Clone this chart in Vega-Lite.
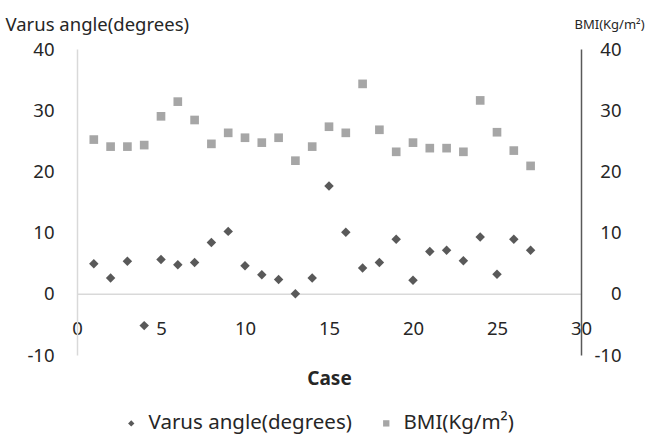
{
  "$schema": "https://vega.github.io/schema/vega-lite/v6.json",
  "width": 504,
  "height": 306,
  "autosize": {"type": "none"},
  "padding": {"left": 77, "top": 49, "right": 66, "bottom": 82},
  "background": "white",
  "config": {
    "view": {"stroke": null},
    "font": "Noto Sans",
    "axis": {"labelFont": "Noto Sans", "titleFont": "Noto Sans", "labelColor": "#262626", "titleColor": "#262626", "grid": false, "ticks": false}
  },
  "data": {
    "values": [
      {"case": 1, "series": "Varus angle(degrees)", "value": 4.9},
      {"case": 2, "series": "Varus angle(degrees)", "value": 2.6},
      {"case": 3, "series": "Varus angle(degrees)", "value": 5.3},
      {"case": 4, "series": "Varus angle(degrees)", "value": -5.2},
      {"case": 5, "series": "Varus angle(degrees)", "value": 5.6},
      {"case": 6, "series": "Varus angle(degrees)", "value": 4.75},
      {"case": 7, "series": "Varus angle(degrees)", "value": 5.1},
      {"case": 8, "series": "Varus angle(degrees)", "value": 8.4},
      {"case": 9, "series": "Varus angle(degrees)", "value": 10.2},
      {"case": 10, "series": "Varus angle(degrees)", "value": 4.6},
      {"case": 11, "series": "Varus angle(degrees)", "value": 3.1},
      {"case": 12, "series": "Varus angle(degrees)", "value": 2.35},
      {"case": 13, "series": "Varus angle(degrees)", "value": 0},
      {"case": 14, "series": "Varus angle(degrees)", "value": 2.6},
      {"case": 15, "series": "Varus angle(degrees)", "value": 17.6},
      {"case": 16, "series": "Varus angle(degrees)", "value": 10.05},
      {"case": 17, "series": "Varus angle(degrees)", "value": 4.2},
      {"case": 18, "series": "Varus angle(degrees)", "value": 5.1},
      {"case": 19, "series": "Varus angle(degrees)", "value": 8.9},
      {"case": 20, "series": "Varus angle(degrees)", "value": 2.2},
      {"case": 21, "series": "Varus angle(degrees)", "value": 6.9},
      {"case": 22, "series": "Varus angle(degrees)", "value": 7.1},
      {"case": 23, "series": "Varus angle(degrees)", "value": 5.4},
      {"case": 24, "series": "Varus angle(degrees)", "value": 9.3},
      {"case": 25, "series": "Varus angle(degrees)", "value": 3.2},
      {"case": 26, "series": "Varus angle(degrees)", "value": 8.9},
      {"case": 27, "series": "Varus angle(degrees)", "value": 7.1},
      {"case": 1, "series": "BMI(Kg/m²)", "value": 25.2},
      {"case": 2, "series": "BMI(Kg/m²)", "value": 24.05},
      {"case": 3, "series": "BMI(Kg/m²)", "value": 24.05},
      {"case": 4, "series": "BMI(Kg/m²)", "value": 24.3},
      {"case": 5, "series": "BMI(Kg/m²)", "value": 29.0},
      {"case": 6, "series": "BMI(Kg/m²)", "value": 31.4},
      {"case": 7, "series": "BMI(Kg/m²)", "value": 28.4},
      {"case": 8, "series": "BMI(Kg/m²)", "value": 24.5},
      {"case": 9, "series": "BMI(Kg/m²)", "value": 26.3},
      {"case": 10, "series": "BMI(Kg/m²)", "value": 25.5},
      {"case": 11, "series": "BMI(Kg/m²)", "value": 24.7},
      {"case": 12, "series": "BMI(Kg/m²)", "value": 25.5},
      {"case": 13, "series": "BMI(Kg/m²)", "value": 21.75},
      {"case": 14, "series": "BMI(Kg/m²)", "value": 24.05},
      {"case": 15, "series": "BMI(Kg/m²)", "value": 27.3},
      {"case": 16, "series": "BMI(Kg/m²)", "value": 26.3},
      {"case": 17, "series": "BMI(Kg/m²)", "value": 34.3},
      {"case": 18, "series": "BMI(Kg/m²)", "value": 26.8},
      {"case": 19, "series": "BMI(Kg/m²)", "value": 23.2},
      {"case": 20, "series": "BMI(Kg/m²)", "value": 24.7},
      {"case": 21, "series": "BMI(Kg/m²)", "value": 23.8},
      {"case": 22, "series": "BMI(Kg/m²)", "value": 23.8},
      {"case": 23, "series": "BMI(Kg/m²)", "value": 23.2},
      {"case": 24, "series": "BMI(Kg/m²)", "value": 31.6},
      {"case": 25, "series": "BMI(Kg/m²)", "value": 26.4},
      {"case": 26, "series": "BMI(Kg/m²)", "value": 23.4},
      {"case": 27, "series": "BMI(Kg/m²)", "value": 20.9}
    ]
  },
  "encoding": {
    "x": {
      "field": "case", "type": "quantitative",
      "scale": {"domain": [0, 30], "nice": false, "zero": false},
      "axis": {
        "title": "Case", "values": [0, 5, 10, 15, 20, 25, 30], "format": "d",
        "offset": -61.2, "domainColor": "#d9d9d9", "domainWidth": 1.5,
        "labelFontSize": 18.5, "labelPadding": 26, "labelFlush": false,
        "titleFontSize": 19, "titleFontWeight": "bold", "titleY": 85, "titleBaseline": "middle"
      }
    },
    "color": {
      "field": "series", "type": "nominal",
      "scale": {"domain": ["Varus angle(degrees)", "BMI(Kg/m²)"], "range": ["#595959", "#a6a6a6"]},
      "legend": {
        "title": null, "orient": "none", "direction": "horizontal",
        "legendX": 44, "legendY": 364, "labelFontSize": 20.5, "labelColor": "#262626",
        "labelFont": "Noto Sans", "labelLimit": 400, "symbolSize": 40, "columnPadding": 24, "labelOffset": 7
      }
    },
    "shape": {
      "field": "series", "type": "nominal",
      "scale": {"domain": ["Varus angle(degrees)", "BMI(Kg/m²)"], "range": ["diamond", "square"]},
      "legend": null
    }
  },
  "layer": [
    {
      "transform": [{"filter": "datum.series === 'Varus angle(degrees)'"}],
      "mark": {"type": "point", "filled": true, "opacity": 1, "size": 90},
      "encoding": {
        "y": {
          "field": "value", "type": "quantitative",
          "scale": {"domain": [-10, 40], "nice": false, "zero": false},
          "axis": {
            "orient": "left", "values": [-10, 0, 10, 20, 30, 40],
            "labelExpr": "'' + datum.value",
            "domainColor": "#d9d9d9", "domainWidth": 1.5,
            "labelFontSize": 18.5, "labelPadding": 23,
            "title": "Varus angle(degrees)", "titleAngle": 0, "titleFontSize": 18.5, "titleFontWeight": "normal",
            "titleAlign": "left", "titleBaseline": "middle", "titleX": -72, "titleY": -25
          }
        }
      }
    },
    {
      "transform": [{"filter": "datum.series === 'BMI(Kg/m²)'"}],
      "mark": {"type": "point", "filled": true, "opacity": 1, "size": 75},
      "encoding": {
        "y": {
          "field": "value", "type": "quantitative",
          "scale": {"domain": [-10, 40], "nice": false, "zero": false},
          "axis": {
            "orient": "right", "values": [-10, 0, 10, 20, 30, 40],
            "labelExpr": "'' + datum.value",
            "domainColor": "#595959", "domainWidth": 1.5,
            "labelFontSize": 18.5, "labelPadding": 40, "labelAlign": "right",
            "title": "BMI(Kg/m²)", "titleAngle": 0, "titleFontSize": 13, "titleFontWeight": "normal", "titleLimit": 200,
            "titleAlign": "left", "titleBaseline": "middle", "titleX": -7, "titleY": -25
          }
        }
      }
    }
  ],
  "resolve": {"scale": {"y": "independent"}}
}
